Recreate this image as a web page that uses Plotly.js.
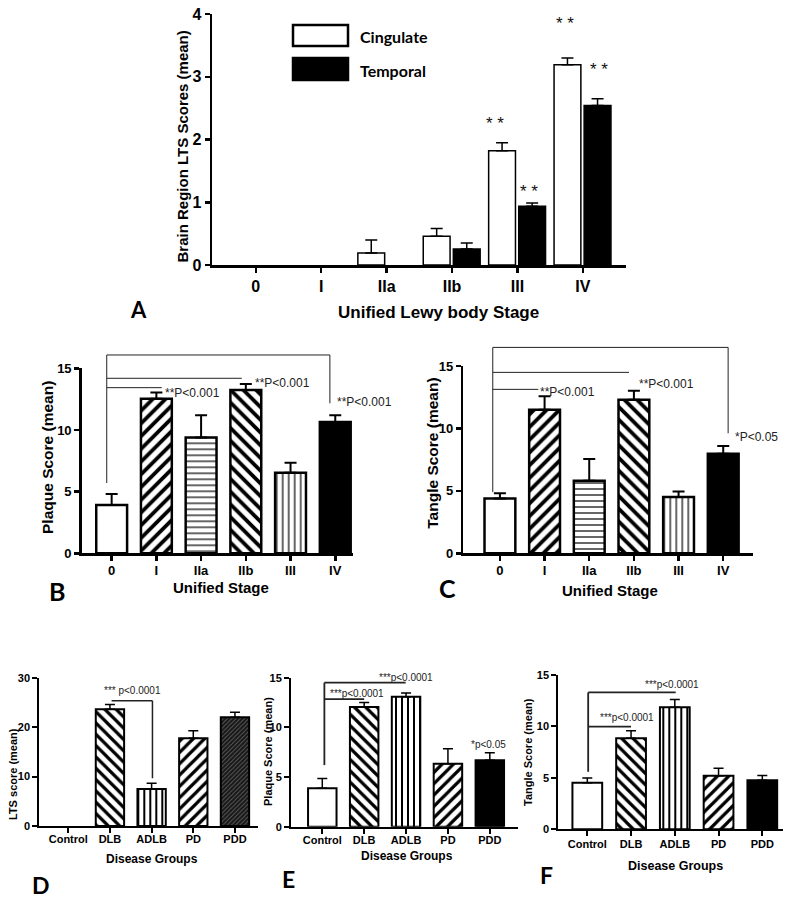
<!DOCTYPE html>
<html><head><meta charset="utf-8">
<script src="https://cdn.plot.ly/plotly-3.0.1.min.js"></script>
<style>html,body{margin:0;padding:0;background:#fff;} #chart{width:800px;height:901px;}</style>
</head><body><div id="chart"></div>
<script>
// ---------- DATA ----------
// Panel A
const stagesA = ['0','I','IIa','IIb','III','IV'];
const cingulate = [0, 0, 0.19, 0.46, 1.82, 3.19];
const cingulateErr = [0, 0, 0.21, 0.12, 0.13, 0.11];
const temporal = [0, 0, 0, 0.255, 0.935, 2.54];
const temporalErr = [0, 0, 0, 0.095, 0.055, 0.11];
// Panel B
const stages = ['0','I','IIa','IIb','III','IV'];
const plaqueStage = [3.92, 12.54, 9.38, 13.24, 6.54, 10.65];
const plaqueStageErr = [0.89, 0.49, 1.81, 0.49, 0.81, 0.54];
// Panel C
const tangleStage = [4.38, 11.50, 5.82, 12.30, 4.51, 7.98];
const tangleStageErr = [0.42, 1.07, 1.73, 0.72, 0.43, 0.61];
// Panel D
const groups = ['Control','DLB','ADLB','PD','PDD'];
const ltsGroup = [0, 23.6, 7.48, 17.73, 21.98];
const ltsGroupErr = [0, 1.0, 1.15, 1.56, 1.01];
// Panel E
const plaqueGroup = [3.87, 12.05, 13.09, 6.34, 6.68];
const plaqueGroupErr = [0.97, 0.45, 0.37, 1.51, 0.77];
// Panel F
const tangleGroup = [4.53, 8.85, 11.87, 5.20, 4.78];
const tangleGroupErr = [0.46, 0.72, 0.76, 0.74, 0.46];

// ---------- STYLE ----------
const FONT = 'Liberation Sans, Arial, sans-serif';
const LFONT = 'Lato, Liberation Sans, sans-serif';

// per-bar fill (used as hatch colour for patterned bars; background stays white)
const stageFill = ['white','black','black','black','black','black'];
const stageShape = ['', '/', '-', '\\', '|', ''];
const stageSize = [8, 9, 6, 9, 6, 8];
const stageSol = [0.3, 0.42, 0.2, 0.42, 0.2, 0.3];

const groupFill = ['white','black','black','black','black'];
const groupShape = ['', '\\', '|', '/', ''];
const groupSize = [8, 8, 6, 8, 8];
const groupSol = [0.3, 0.4, 0.34, 0.4, 0.3];

// error bars only where the bar is non-zero
function errUp(vals, errs, thick, w) {
  return {type:'data', symmetric:false, color:'black', thickness: thick, width: w,
    array: errs.map((e, i) => vals[i] > 0 ? e : NaN),
    arrayminus: errs.map((e, i) => vals[i] > 0 ? 0 : NaN)};
}
const outline = (vals, w) => vals.map(v => v > 0 ? w : 0);

function patternBar(x, y, err, ax, lw, ew, ecap, fills, shapes, sizes, sols) {
  return {type:'bar', x: x, y: y, xaxis:'x'+ax, yaxis:'y'+ax, width:0.68, showlegend:false,
    marker:{color: fills, line:{color:'black', width: outline(y, lw)},
      pattern:{shape: shapes, size: sizes, solidity: sols, fillmode:'replace'}},
    error_y: errUp(y, err, ew, ecap)};
}

const nD = 4; // Control..PD in main D trace; PDD has its own dark hatch
const traces = [
  {type:'bar', name:'Cingulate', x: stagesA, y: cingulate, xaxis:'x', yaxis:'y',
   width: 0.41, offset: -0.44, showlegend:false,
   marker:{color:'white', line:{color:'black', width: outline(cingulate, 1.5)}},
   error_y: errUp(cingulate, cingulateErr, 1.5, 6)},
  {type:'bar', name:'Temporal', x: stagesA, y: temporal, xaxis:'x', yaxis:'y',
   width: 0.41, offset: 0.02, showlegend:false,
   marker:{color:'black', line:{color:'black', width: outline(temporal, 1.5)}},
   error_y: errUp(temporal, temporalErr, 1.5, 6)},
  Object.assign(patternBar(stages, plaqueStage, plaqueStageErr, 2, 2.5, 2, 6, stageFill, stageShape, stageSize, stageSol), {width:0.69}),
  Object.assign(patternBar(stages, tangleStage, tangleStageErr, 3, 2.5, 2, 6, stageFill, stageShape, stageSize, stageSol), {width:0.69}),
  patternBar(groups.slice(0, nD), ltsGroup.slice(0, nD), ltsGroupErr.slice(0, nD), 4, 2, 1.5, 5,
    groupFill.slice(0, nD), groupShape.slice(0, nD), groupSize.slice(0, nD), groupSol.slice(0, nD)),
  {type:'bar', x: groups.slice(nD), y: ltsGroup.slice(nD), xaxis:'x4', yaxis:'y4', width:0.68, showlegend:false,
   marker:{color:'#161616', line:{color:'black', width:2},
     pattern:{shape:'/', bgcolor:'#161616', fgcolor:'#606060', size:3, solidity:0.3}},
   error_y: errUp(ltsGroup.slice(nD), ltsGroupErr.slice(nD), 1.5, 5)},
  patternBar(groups, plaqueGroup, plaqueGroupErr, 5, 2, 1.5, 5, groupFill, groupShape, groupSize, groupSol),
  patternBar(groups, tangleGroup, tangleGroupErr, 6, 2, 1.5, 5, groupFill, groupShape, groupSize, groupSol)
];

const W = 800, H = 901;
const px = v => v / W;
const py = v => 1 - v / H;

function xax(dom, range, size, lw, anchor, standoff) {
  return {domain: dom, range: range, type:'category', autorange:false, anchor: anchor,
    showline:true, linecolor:'black', linewidth: lw, ticks:'outside', ticklen:5, tickwidth: lw,
    tickcolor:'black', showgrid:false, zeroline:false, fixedrange:true, ticklabelstandoff: standoff || 0,
    tickfont:{family: FONT, size: size, color:'black', weight:'bold'}};
}
function yax(dom, range, tv, size, lw, anchor) {
  return {domain: dom, range: range, autorange:false, anchor: anchor, tickvals: tv,
    showline:true, linecolor:'black', linewidth: lw, ticks:'outside', ticklen:5, tickwidth: lw,
    tickcolor:'black', showgrid:false, zeroline:false, fixedrange:true,
    tickfont:{family: FONT, size: size, color:'black', weight:'bold'}};
}

const layout = {
  width: W, height: H, margin:{l:0,r:0,t:0,b:0}, paper_bgcolor:'white', plot_bgcolor:'rgba(0,0,0,0)',
  showlegend:false, barmode:'overlay',
  xaxis:  xax([px(212), px(626)], [-0.67, 5.66], 16, 2.5, 'y'),
  yaxis:  yax([py(265), py(14)], [0, 4], [0,1,2,3,4], 16, 2.5, 'x'),
  xaxis2: xax([px(81.7), px(352.7)], [-0.67, 5.39], 13, 2.5, 'y2', -1),
  yaxis2: yax([py(553.3), py(368.3)], [0, 15], [0,5,10,15], 13, 2.5, 'x2'),
  xaxis3: xax([px(463.3), px(752.7)], [-0.82, 5.66], 13, 2.5, 'y3', -1),
  yaxis3: yax([py(553.3), py(366)], [0, 15], [0,5,10,15], 13, 2.5, 'x3'),
  xaxis4: xax([px(39.3), px(258.3)], [-0.695, 4.56], 11, 2, 'y4', -3),
  yaxis4: yax([py(826), py(677.7)], [0, 30], [0,10,20,30], 11, 2, 'x4'),
  xaxis5: xax([px(291), px(518.3)], [-0.747, 4.68], 11, 2, 'y5', -3),
  yaxis5: yax([py(826.7), py(677.7)], [0, 15], [0,5,10,15], 11, 2, 'x5'),
  xaxis6: xax([px(558.3), px(783.3)], [-0.663, 4.48], 11, 2, 'y6', -2),
  yaxis6: yax([py(829.3), py(675)], [0, 15], [0,5,10,15], 11, 2, 'x6'),
  shapes: [], annotations: []
};

// bracket helper: xref axis, yref axis-domain (so lines above the range are not clipped)
function seg(ax, ymax, x0, y0, x1, y1, w, c) {
  layout.shapes.push({type:'line', xref:'x'+ax, yref:'y'+ax+' domain',
    x0:x0, x1:x1, y0:y0/ymax, y1:y1/ymax, line:{color: c || '#222', width: w || 1}});
}
function txt(xref, yref, x, y, t, opts) {
  layout.annotations.push(Object.assign({xref:xref, yref:yref, x:x, y:y, text:t, showarrow:false,
    xanchor:'center', yanchor:'middle', font:{family: FONT, size: 11, color:'#222'}}, opts || {}));
}
const pFont = {family:FONT, size:12, color:'#222'};
const pFontS = {family:FONT, size:10, color:'#222'};

// Panel B brackets
seg(2, 15, -0.11, 5.7, -0.11, 16.08);
seg(2, 15, -0.11, 13.43, 1.12, 13.43);
seg(2, 15, -0.11, 14.19, 2.91, 14.19);
seg(2, 15, -0.11, 16.08, 4.88, 16.08);
seg(2, 15, 4.88, 16.08, 4.88, 12.16);
txt('x2','y2', 1.14, 13.03, '**P<0.001', {xanchor:'left', font:pFont});
txt('x2','y2', 3.16, 13.79, '**P<0.001', {xanchor:'left', font:pFont});
txt('x2','y2', 5.0, 12.25, '**P<0.001', {xanchor:'left', font:pFont});

// Panel C brackets
seg(3, 15, -0.16, 4.9, -0.16, 16.49);
seg(3, 15, -0.16, 13.13, 0.86, 13.13);
seg(3, 15, -0.16, 14.49, 2.89, 14.49);
seg(3, 15, -0.16, 16.49, 5.11, 16.49);
seg(3, 15, 5.11, 16.49, 5.11, 9.61);
txt('x3','y3', 0.86, 12.9, '**P<0.001', {xanchor:'left', font:pFont});
txt('x3','y3', 3.07, 13.56, '**P<0.001', {xanchor:'left', font:pFont});
txt('x3','y3', 5.22, 9.31, '*P<0.05', {xanchor:'left', font:pFont});

// Panel D bracket
seg(4, 30, 1.04, 25.35, 2.02, 25.35, 1.5);
seg(4, 30, 2.02, 25.35, 2.02, 9.64, 1.5);
txt('x4','y4', 0.82, 27.4, '*** p<0.0001', {xanchor:'left', font:pFontS});

// Panel E brackets
seg(5, 15, 0.05, 6.2, 0.05, 14.5, 1.8);
seg(5, 15, 0.05, 14.5, 1.99, 14.5, 1.8);
seg(5, 15, 0.05, 12.85, 1.0, 12.85, 1.8);
txt('x5','y5', 0.13, 13.36, '***p<0.0001', {xanchor:'left', font:pFontS});
txt('x5','y5', 1.3, 14.99, '***p<0.0001', {xanchor:'left', font:pFontS});
txt('x5','y5', 3.5, 8.3, '*p<0.05', {xanchor:'left', font:pFontS});

// Panel F brackets
seg(6, 15, 0.02, 5.6, 0.02, 13.31, 1.8);
seg(6, 15, 0.02, 13.31, 2.02, 13.31, 1.8);
seg(6, 15, 0.02, 9.98, 1.0, 9.98, 1.8);
txt('x6','y6', 0.24, 10.9, '***p<0.0001', {xanchor:'left', font:pFontS});
txt('x6','y6', 1.27, 14.1, '***p<0.0001', {xanchor:'left', font:pFontS});

// Panel A significance stars
const starFont = {family: FONT, size: 17, color:'#111'};
txt('x','y', 3.66, 2.26, '* *', {font: starFont});
txt('x','y', 4.17, 1.17, '* *', {font: starFont});
txt('x','y', 4.73, 3.85, '* *', {font: starFont});
txt('x','y', 5.24, 3.11, '* *', {font: starFont});

// Panel A legend (drawn boxes)
layout.shapes.push({type:'rect', xref:'paper', yref:'paper', x0:px(293), x1:px(348), y0:py(46), y1:py(25),
  fillcolor:'white', line:{color:'black', width:2.5}});
layout.shapes.push({type:'rect', xref:'paper', yref:'paper', x0:px(293), x1:px(348), y0:py(80), y1:py(58),
  fillcolor:'black', line:{color:'black', width:2.5}});
const legFont = {family: LFONT, size: 16, color:'black', weight:'bold'};
txt('paper','paper', px(358), py(36), 'Cingulate', {xanchor:'left', font: legFont});
txt('paper','paper', px(358), py(70), 'Temporal', {xanchor:'left', font: legFont});

// Axis titles
function title(x, y, t, size, rot, fam) {
  txt('paper','paper', px(x), py(y), t, {textangle: rot || 0,
    font:{family: fam || FONT, size: size, color:'black', weight:'bold'}});
}
title(182, 146.5, 'Brain Region LTS Scores (mean)', 15, -90);
title(438.8, 312.7, 'Unified Lewy body Stage', 17);
title(47, 458, 'Plaque Score (mean)', 15.5, -90);
title(221, 587, 'Unified Stage', 15);
title(431.7, 453, 'Tangle Score (mean)', 15.5, -90);
title(610, 590, 'Unified Stage', 15);
title(13, 774, 'LTS score (mean)', 11, -90);
title(152, 859, 'Disease Groups', 12);
title(268, 752, 'Plaque Score (mean)', 11, -90);
title(406.7, 856, 'Disease Groups', 12);
title(528, 752, 'Tangle Score (mean)', 11, -90);
title(675, 866, 'Disease Groups', 12.5);

// Panel letters
title(138.3, 309.5, 'A', 22, 0, LFONT);
title(57, 591, 'B', 25, 0, LFONT);
title(447, 588, 'C', 25, 0, LFONT);
title(41, 885, 'D', 23, 0, LFONT);
title(288, 879, 'E', 23, 0, LFONT);
title(546, 875, 'F', 23, 0, LFONT);

Plotly.newPlot('chart', traces, layout, {staticPlot:true, displayModeBar:false});
</script>
</body></html>
